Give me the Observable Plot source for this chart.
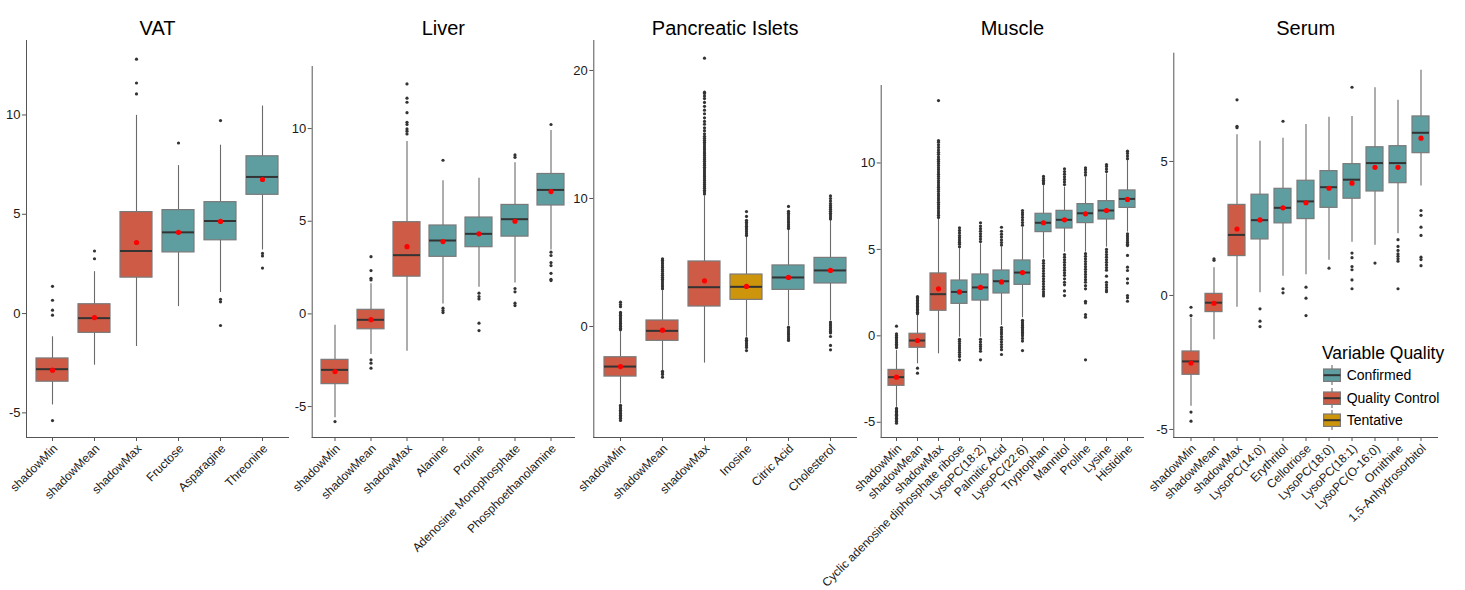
<!DOCTYPE html>
<html><head><meta charset="utf-8">
<script src="https://cdn.jsdelivr.net/npm/d3@7"></script>
<script src="https://cdn.jsdelivr.net/npm/@observablehq/plot@0.6"></script>
<style>
body{margin:0;background:#fff;}
#chart{position:relative;width:1465px;height:590px;overflow:hidden;font-family:"Liberation Sans",Arial,sans-serif;background:#fff;}
#chart g[aria-label="x-axis tick label"]{fill:#1a1a1a;font-size:12px;translate:3px 0px;}
#chart g[aria-label="y-axis tick label"]{fill:#1a1a1a;font-size:13px;}
.lg{position:absolute;font-family:"Liberation Sans",Arial,sans-serif;color:#000;white-space:nowrap;}
</style>
</head><body>
<div id="chart"></div>
<script>
// ---------- data ----------
const qualityColors = ["#5F9EA0", "#CD5B45", "#CD950C"];
const qualityLabels = ["Confirmed", "Quality Control", "Tentative"];

// VAT
const vatCats = ["shadowMin","shadowMean","shadowMax","Fructose","Asparagine","Threonine"];
const vatQuality = ["Quality Control","Quality Control","Quality Control","Confirmed","Confirmed","Confirmed"];
const vatQ1 = [-3.43,-0.97,1.81,3.08,3.69,5.98];
const vatMed = [-2.8,-0.23,3.15,4.09,4.66,6.88];
const vatQ3 = [-2.26,0.47,5.11,5.21,5.61,7.92];
const vatLo = [-4.6,-2.6,-1.66,0.35,1.06,3.2];
const vatHi = [-1.17,2.11,9.98,7.45,8.48,10.45];
const vatMean = [-2.85,-0.2,3.58,4.09,4.64,6.75];
const vatOut = [[1.37,0.67,0.17,-0.08,-5.39],[3.15,2.76],[12.81,11.61,11.06],[8.59],[9.72,0.72,0.59,-0.6],[3.03,2.9,2.29]];

// Liver
const livCats = ["shadowMin","shadowMean","shadowMax","Alanine","Proline","Adenosine Monophosphate","Phosphoethanolamine"];
const livQuality = ["Quality Control","Quality Control","Quality Control","Confirmed","Confirmed","Confirmed","Confirmed"];
const livQ1 = [-3.79,-0.83,2.01,3.08,3.6,4.17,5.85];
const livMed = [-3.02,-0.32,3.17,3.96,4.32,5.11,6.69];
const livQ3 = [-2.48,0.22,4.95,4.77,5.2,5.88,7.55];
const livLo = [-5.6,-2.19,-2.01,0.54,1.44,1.67,3.45];
const livHi = [-0.61,1.62,9.3,7.19,7.32,8.15,9.89];
const livMean = [-3.11,-0.31,3.63,3.9,4.32,5.0,6.6];
const livOut = [[-5.81],[3.09,2.34,1.92,1.83,-2.48,-2.66,-2.93],[12.41,11.64,11.42,10.86,10.34,10.22,9.98,9.86,9.71],[8.29,0.31,0.18,0.07],[1.12,0.94,0.81,-0.5,-0.9],[8.58,8.45,1.37,1.19,0.58,0.45],[10.22,3.33,3.15,2.77,2.61,2.19,1.87,1.8]];

// Pancreatic Islets
const isCats = ["shadowMin","shadowMean","shadowMax","Inosine","Citric Acid","Cholesterol"];
const isQuality = ["Quality Control","Quality Control","Quality Control","Tentative","Confirmed","Confirmed"];
const isQ1 = [-3.91,-1.12,1.56,2.08,2.86,3.36];
const isMed = [-3.13,-0.34,3.07,3.1,3.83,4.38];
const isQ3 = [-2.4,0.47,5.08,4.06,4.77,5.36];
const isLo = [-6.04,-3.44,-2.86,-0.83,0.08,0.47];
const isHi = [-0.35,2.8,10.2,6.98,7.5,8.28];
const isMean = [-3.13,-0.29,3.57,3.13,3.83,4.38];
const isOut = [
  [-0.25,-0.13,0.0,0.11,0.24,0.37,0.5,0.61,0.74,0.87,0.99,1.1,1.55,1.72,1.9,-6.15,-6.28,-6.42,-6.55,-6.67,-6.8,-6.93,-7.05,-7.17,-7.34],
  [2.95,3.1,3.24,3.39,3.55,3.7,3.84,4.0,4.14,4.3,4.45,4.6,4.74,4.9,5.04,5.18,5.29,-3.5,-3.63,-3.75,-3.96],
  [10.35,10.5,10.64,10.8,10.94,11.1,11.24,11.4,11.55,11.7,11.84,12.0,12.15,12.3,12.44,12.6,12.74,12.9,13.05,13.2,13.35,13.5,13.64,13.8,13.95,14.1,14.25,14.4,14.55,14.7,14.86,15.05,15.3,15.52,15.8,16.02,16.3,16.62,16.9,17.2,17.5,17.8,18.0,18.2,18.3,20.96],
  [7.1,7.24,7.4,7.55,7.7,7.84,8.0,8.15,8.3,8.6,8.98,-0.95,-1.08,-1.2,-1.35,-1.5,-1.64,-1.88],
  [7.65,7.8,7.95,8.1,8.24,8.4,8.55,8.7,8.85,9.0,9.38,-0.05,-0.2,-0.35,-0.5,-0.64,-0.8,-0.95,-1.09],
  [8.4,8.55,8.7,8.84,9.0,9.15,9.3,9.45,9.6,9.8,10.0,10.2,0.35,0.2,0.05,-0.1,-0.25,-0.4,-0.5,-0.78,-1.48,-1.82]
];

// Muscle
const musCats = ["shadowMin","shadowMean","shadowMax","Cyclic adenosine diphosphate ribose","LysoPC(18:2)","Palmitic Acid","LysoPC(22:6)","Tryptophan","Mannitol","Proline","Lysine","Histidine"];
const musQuality = ["Quality Control","Quality Control","Quality Control","Confirmed","Confirmed","Confirmed","Confirmed","Confirmed","Confirmed","Confirmed","Confirmed","Confirmed"];
const musQ1 = [-2.89,-0.69,1.45,1.85,2.04,2.45,2.95,6.0,6.21,6.52,6.73,7.4];
const musMed = [-2.39,-0.27,2.41,2.54,2.8,3.16,3.66,6.54,6.71,7.09,7.25,7.92];
const musQ3 = [-1.97,0.12,3.61,3.2,3.55,3.78,4.36,7.06,7.23,7.62,7.79,8.41];
const musLo = [-4.13,-1.62,-1.04,-0.08,-0.08,0.6,1.05,4.45,4.84,4.84,5.13,6.0];
const musHi = [-0.85,1.18,6.77,5.03,5.32,5.13,6.28,8.69,8.6,9.18,9.37,10.14];
const musMean = [-2.39,-0.27,2.72,2.54,2.8,3.12,3.66,6.54,6.71,7.06,7.25,7.89];
const musOut = [
  [0.56,0.12,0.02,-0.08,-0.18,-0.28,-0.38,-0.48,-0.58,-0.68,-4.2,-4.28,-4.36,-4.45,-4.53,-4.6,-4.68,-4.77,-4.85,-4.94,-5.05],
  [1.28,1.36,1.45,1.53,1.62,1.7,1.79,1.87,1.96,2.05,2.14,2.22,2.27,-1.87,-2.16],
  [6.85,6.98,7.1,7.22,7.35,7.47,7.6,7.72,7.85,7.97,8.1,8.22,8.35,8.47,8.6,8.72,8.85,8.97,9.1,9.22,9.35,9.47,9.6,9.72,9.85,9.97,10.1,10.22,10.35,10.5,10.62,10.75,10.9,11.05,11.2,11.3,13.61],
  [5.15,5.3,5.42,5.55,5.68,5.8,5.95,6.1,6.25,-0.2,-0.32,-0.45,-0.58,-0.7,-0.82,-0.95,-1.08,-1.2,-1.39],
  [5.45,5.6,5.75,5.9,6.05,6.2,6.35,6.54,-0.2,-0.35,-0.5,-0.62,-0.75,-0.89,-1.39],
  [5.25,5.4,5.55,5.72,5.88,6.05,6.28,0.48,0.35,0.22,0.1,-0.05,-0.2,-0.35,-0.5,-0.65,-0.8,-1.08],
  [6.4,6.55,6.7,6.85,7.0,7.12,7.25,0.9,0.8,0.7,0.6,0.5,0.4,0.3,0.2,0.1,0.0,-0.15,-0.3,-0.85],
  [8.8,8.9,9.0,9.1,9.22,4.35,4.2,4.05,3.9,3.75,3.6,3.45,3.3,3.15,3.0,2.85,2.7,2.55,2.42,2.31],
  [8.75,8.9,9.05,9.2,9.35,9.5,9.66,4.7,4.55,4.4,4.25,4.1,3.95,3.8,3.65,3.5,3.3,3.1,2.95,2.6,2.33],
  [9.3,9.45,9.6,9.72,4.75,4.6,4.45,4.3,4.15,4.0,3.85,3.7,3.55,3.4,3.25,3.1,2.9,2.72,2.0,1.9,1.23,1.08,-1.39],
  [9.5,9.65,9.8,9.91,5.0,4.85,4.7,4.55,4.4,4.25,4.1,3.95,3.8,3.45,3.1,2.95,2.8,2.65,2.55],
  [10.25,10.4,10.55,10.68,5.9,5.78,5.66,5.54,5.42,5.3,5.22,4.65,3.97,3.78,3.3,3.05,2.33,2.2,2.0]
];

// Serum
const serCats = ["shadowMin","shadowMean","shadowMax","LysoPC(14:0)","Erythritol","Cellotriose","LysoPC(18:0)","LysoPC(18:1)","LysoPC(O-16:0)","Ornithine","1,5-Anhydrosorbitol"];
const serQuality = ["Quality Control","Quality Control","Quality Control","Confirmed","Confirmed","Confirmed","Confirmed","Confirmed","Confirmed","Confirmed","Confirmed"];
const serQ1 = [-2.96,-0.62,1.47,2.09,2.69,2.85,3.27,3.61,3.88,4.19,5.31];
const serMed = [-2.46,-0.27,2.26,2.81,3.27,3.51,4.04,4.32,4.94,4.94,6.07];
const serQ3 = [-2.09,0.06,3.38,3.76,3.98,4.28,4.64,4.9,5.53,5.57,6.68];
const serLo = [-4.13,-1.65,-0.44,0.1,0.72,0.77,1.31,1.99,1.87,2.3,4.08];
const serHi = [-0.85,1.03,6.0,5.75,5.87,6.38,6.65,6.68,7.75,7.28,8.4];
const serMean = [-2.52,-0.29,2.48,2.82,3.27,3.46,4.0,4.19,4.78,4.78,5.87];
const serOut = [[-0.44,-0.75,-4.35,-4.69],[1.37,1.31],[7.3,6.31,6.26],[-0.5,-0.96,-1.16],[6.5,0.25,0.1],[0.31,-0.1,-0.75],[1.02],[7.77,1.58,1.41,1.08,0.96,0.58,0.25],[1.21],[2.08,1.83,1.68,1.55,1.46,1.37,1.28,0.25],[3.17,2.99,2.55,2.24,1.43,1.34,1.11]];

// ---------- layout ----------
const W = 1465, H = 590;
const panels = [
  {title:"VAT", cats:vatCats, quality:vatQuality, q1:vatQ1, med:vatMed, q3:vatQ3, lo:vatLo, hi:vatHi, mean:vatMean, out:vatOut,
   L:26, R:288, T:40, B:437, y:[-6.24,13.75], ticks:[-5,0,5,10]},
  {title:"Liver", cats:livCats, quality:livQuality, q1:livQ1, med:livMed, q3:livQ3, lo:livLo, hi:livHi, mean:livMean, out:livOut,
   L:311.7, R:574, T:66, B:437, y:[-6.67,13.35], ticks:[-5,0,5,10]},
  {title:"Pancreatic Islets", cats:isCats, quality:isQuality, q1:isQ1, med:isMed, q3:isQ3, lo:isLo, hi:isHi, mean:isMean, out:isOut,
   L:593.3, R:856, T:40, B:437, y:[-8.67,22.34], ticks:[0,10,20]},
  {title:"Muscle", cats:musCats, quality:musQuality, q1:musQ1, med:musMed, q3:musQ3, lo:musLo, hi:musHi, mean:musMean, out:musOut,
   L:880.7, R:1143, T:85, B:437, y:[-5.88,14.48], ticks:[-5,0,5,10]},
  {title:"Serum", cats:serCats, quality:serQuality, q1:serQ1, med:serMed, q3:serQ3, lo:serLo, hi:serHi, mean:serMean, out:serOut,
   L:1173.3, R:1437, T:52.7, B:437, y:[-5.30,9.04], ticks:[-5,0,5]}
];

const chart = document.getElementById("chart");
for (const p of panels) {
  const rows = p.cats.map((c, i) => ({cat:c, q:p.quality[i], q1:p.q1[i], med:p.med[i], q3:p.q3[i], lo:p.lo[i], hi:p.hi[i], mean:p.mean[i]}));
  const outRows = p.out.flatMap((arr, i) => arr.map(v => ({cat:p.cats[i], v})));
  const svg = Plot.plot({
    width: W, height: H,
    marginLeft: p.L, marginRight: W - p.R, marginTop: p.T, marginBottom: H - p.B,
    style: {position:"absolute", left:"0px", top:"0px", background:"transparent", overflow:"visible",
            fontFamily:"'Liberation Sans', Arial, sans-serif", fontSize:"12px", color:"#555"},
    x: {type:"band", domain:p.cats, paddingInner:0.25, paddingOuter:0.225, tickRotate:-45, tickSize:4, tickPadding:5, line:true, label:null},
    y: {domain:p.y, ticks:p.ticks, tickFormat:d => String(d), tickSize:4, tickPadding:2, line:true, label:null},
    color: {domain: qualityLabels, range: qualityColors},
    marks: [
      Plot.ruleX(rows, {x:"cat", y1:"lo", y2:"hi", stroke:"#6a6a6a", strokeWidth:1.1}),
      Plot.barY(rows, {x:"cat", y1:"q1", y2:"q3", fill:"q", stroke:"#7a7a7a", strokeWidth:1.2}),
      Plot.tickY(rows, {x:"cat", y:"med", stroke:"#333", strokeWidth:2}),
      Plot.dot(outRows, {x:"cat", y:"v", r:1.6, fill:"#333", stroke:null}),
      Plot.dot(rows, {x:"cat", y:"mean", r:2.6, fill:"#ff0000", stroke:null}),
      Plot.text([p.title], {frameAnchor:"top", dy: 20.5 - p.T, fontSize:20, fill:"#000"})
    ]
  });
  chart.appendChild(svg);
}

// ---------- legend ----------
const lt = document.createElement("div");
lt.className = "lg";
lt.style.cssText = "left:1322px;top:345px;font-size:17.5px;line-height:17.5px;";
lt.textContent = "Variable Quality";
chart.appendChild(lt);
qualityLabels.forEach((lab, i) => {
  const top = 364.4 + i * 22.3;
  const key = document.createElement("div");
  key.className = "lg";
  key.style.cssText = `left:1323px;top:${top}px;width:18px;height:22px;`;
  key.innerHTML = `<svg width="18" height="22"><line x1="9" x2="9" y1="1" y2="21" stroke="#6a6a6a" stroke-width="1.1"/>` +
    `<rect x="0.6" y="5" width="16.8" height="12.4" fill="${qualityColors[i]}" stroke="#7a7a7a" stroke-width="1.2"/>` +
    `<line x1="0.6" x2="17.4" y1="11.2" y2="11.2" stroke="#333" stroke-width="2"/></svg>`;
  chart.appendChild(key);
  const t = document.createElement("div");
  t.className = "lg";
  t.style.cssText = `left:1346.7px;top:${top}px;height:22px;line-height:22px;font-size:14px;`;
  t.textContent = lab;
  chart.appendChild(t);
});
</script>
</body></html>
